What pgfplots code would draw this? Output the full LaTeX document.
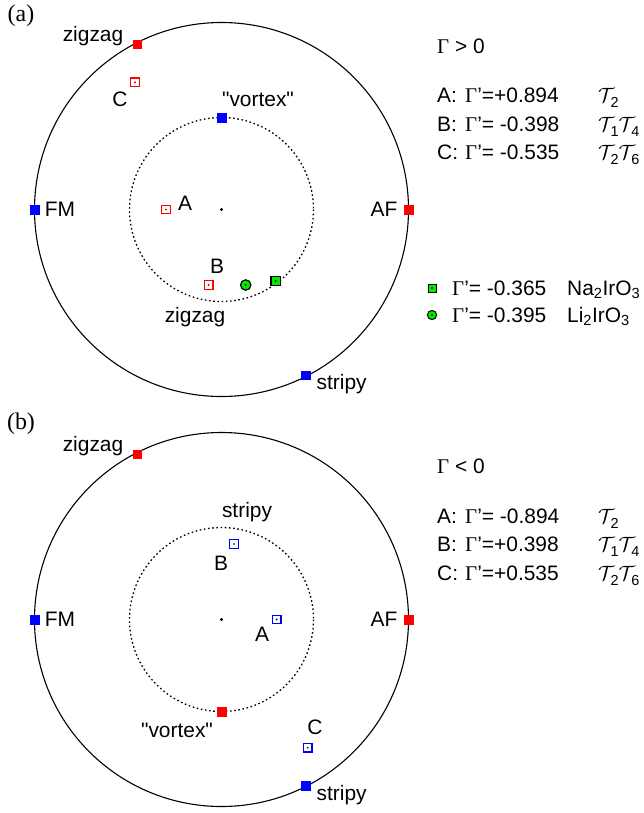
\documentclass[border=0pt]{standalone}
\usepackage{pgfplots}
\pgfplotsset{compat=1.18}
\usepackage{fontspec}
\setmainfont{Liberation Sans}
\newfontfamily\serif{Liberation Serif}
\newfontfamily\nolig{Liberation Sans}
\definecolor{mgreen}{RGB}{0,235,0}
\newcommand\G{{\serif Γ}}
\newcommand\Q{{\nolig"}}
\newcommand\Tc[1]{{\fontsize{20}{20}\selectfont$\mathcal{T}$}\kern-4bp\raisebox{-5bp}{\fontsize{14.5}{15}\selectfont #1}}
\begin{document}
\begin{tikzpicture}[lab/.style={font=\fontsize{21}{25}\selectfont, inner sep=0pt}]
\begin{axis}[x=1bp, y=1bp, xmin=0, xmax=644, ymin=0, ymax=813, y dir=reverse,
  hide axis, clip=false]
% bounding corners
\coordinate (BL) at (axis cs:0,813);
\coordinate (TR) at (axis cs:644,0);
% ---------- panel (a) ----------
\draw[black, line width=1.1bp] (axis cs:221.5,209.5) circle[radius=187];
\draw[black, line width=1.3bp, dash pattern=on 1.6bp off 2.6bp] (axis cs:221.5,209.5) circle[radius=92];
% ---------- panel (b) ----------
\draw[black, line width=1.1bp] (axis cs:221.5,619.5) circle[radius=187];
\draw[black, line width=1.3bp, dash pattern=on 1.6bp off 2.6bp] (axis cs:221.5,619.5) circle[radius=92];
% center dots
\addplot[only marks, mark=*, mark size=1.4bp, black] coordinates {(221.5,209.5) (221.5,619.5)};
% blue filled squares
\addplot[only marks, mark=square*, mark size=4.3bp, blue, fill=blue] coordinates {
 (34.5,209.5) (305.5,375) (221.5,117.5)
 (34.5,619.5) (305.7,785.7)};
% red filled squares
\addplot[only marks, mark=square*, mark size=4.3bp, red, fill=red] coordinates {
 (408.5,209.5) (137.3,44)
 (408.5,619.5) (137.3,454) (221.5,711.5)};
% open red squares (a)
\addplot[only marks, mark=square, mark size=4.3bp, red, line width=1.3bp] coordinates {
 (135,82.3) (166,209.5) (208.7,285)};
\addplot[only marks, mark=*, mark size=0.7bp, red!70!black] coordinates {
 (135,82.3) (166,209.5) (208.7,285)};
% open blue squares (b)
\addplot[only marks, mark=square, mark size=4.3bp, blue, line width=1.3bp] coordinates {
 (234,544) (276.7,619.5) (307.7,747.7)};
\addplot[only marks, mark=*, mark size=0.7bp, blue!70!black] coordinates {
 (234,544) (276.7,619.5) (307.7,747.7)};
% green square (Na2IrO3) and legend marker
\addplot[only marks, mark=square*, mark size=4.8bp, black, fill=mgreen, line width=1.2bp] coordinates {(275.7,281)};
\addplot[only marks, mark=square*, mark size=4bp, black, fill=mgreen, line width=1bp] coordinates {(432,288)};
% green circle (Li2IrO3) and legend marker
\addplot[only marks, mark=*, mark size=5.2bp, black, fill=mgreen, line width=1.2bp] coordinates {(245.7,285)};
\addplot[only marks, mark=*, mark size=4.6bp, black, fill=mgreen, line width=1bp] coordinates {(432,315)};
\addplot[only marks, mark=*, mark size=0.7bp, black] coordinates {(275.7,281) (432,288) (245.7,285) (432,315)};
% ---------- labels (a) ----------
\node[lab, font=\fontsize{24}{28}\selectfont\serif, anchor=center] at (axis cs:21,16) {(a)};
\node[lab, anchor=base] at (axis cs:93,41.7) {zigzag};
\node[lab, anchor=base] at (axis cs:120,106) {C};
\node[lab, anchor=base] at (axis cs:258,106) {\Q vortex\Q};
\node[lab, anchor=base] at (axis cs:60,216.7) {FM};
\node[lab, anchor=base] at (axis cs:185,210) {A};
\node[lab, anchor=base] at (axis cs:384,216.7) {AF};
\node[lab, anchor=base] at (axis cs:217,273) {B};
\node[lab, anchor=base] at (axis cs:195,322) {zigzag};
\node[lab, anchor=base] at (axis cs:341.7,389.3) {stripy};
% right text (a)
\node[lab, anchor=base west] at (axis cs:437,53.3) {\G\ > 0};
\node[lab, anchor=base west] at (axis cs:437,102.7) {A:};
\node[lab, anchor=base west] at (axis cs:465,102.7) {\G'=+0.894};
\node[lab, anchor=base west] at (axis cs:598,102.7) {\Tc{2}};
\node[lab, anchor=base west] at (axis cs:437,131.2) {B:};
\node[lab, anchor=base west] at (axis cs:465,131.2) {\G'= -0.398};
\node[lab, anchor=base west] at (axis cs:598,131.2) {\Tc{1}\Tc{4}};
\node[lab, anchor=base west] at (axis cs:437,159.7) {C:};
\node[lab, anchor=base west] at (axis cs:465,159.7) {\G'= -0.535};
\node[lab, anchor=base west] at (axis cs:598,159.7) {\Tc{2}\Tc{6}};
% legend (a)
\node[lab, anchor=base west] at (axis cs:452,295) {\G'= -0.365};
\node[lab, anchor=base west] at (axis cs:567,295) {Na\textsubscript{2}IrO\textsubscript{3}};
\node[lab, anchor=base west] at (axis cs:452,322) {\G'= -0.395};
\node[lab, anchor=base west] at (axis cs:567,322) {Li\textsubscript{2}IrO\textsubscript{3}};
% ---------- labels (b) ----------
\node[lab, font=\fontsize{24}{28}\selectfont\serif, anchor=center] at (axis cs:21,424) {(b)};
\node[lab, anchor=base] at (axis cs:93,451) {zigzag};
\node[lab, anchor=base] at (axis cs:247,517.3) {stripy};
\node[lab, anchor=base] at (axis cs:221,570) {B};
\node[lab, anchor=base] at (axis cs:60,626.7) {FM};
\node[lab, anchor=base] at (axis cs:384,626.7) {AF};
\node[lab, anchor=base] at (axis cs:262,641.7) {A};
\node[lab, anchor=base] at (axis cs:315,734.3) {C};
\node[lab, anchor=base] at (axis cs:177,737) {\Q vortex\Q};
\node[lab, anchor=base] at (axis cs:341.7,800) {stripy};
% right text (b)
\node[lab, anchor=base west] at (axis cs:437,473.3) {\G\ < 0};
\node[lab, anchor=base west] at (axis cs:437,523.3) {A:};
\node[lab, anchor=base west] at (axis cs:465,523.3) {\G'= -0.894};
\node[lab, anchor=base west] at (axis cs:598,523.3) {\Tc{2}};
\node[lab, anchor=base west] at (axis cs:437,551.8) {B:};
\node[lab, anchor=base west] at (axis cs:465,551.8) {\G'=+0.398};
\node[lab, anchor=base west] at (axis cs:598,551.8) {\Tc{1}\Tc{4}};
\node[lab, anchor=base west] at (axis cs:437,580.3) {C:};
\node[lab, anchor=base west] at (axis cs:465,580.3) {\G'=+0.535};
\node[lab, anchor=base west] at (axis cs:598,580.3) {\Tc{2}\Tc{6}};
\end{axis}
\pgfresetboundingbox
\path (BL) rectangle (TR);
\end{tikzpicture}
\end{document}
